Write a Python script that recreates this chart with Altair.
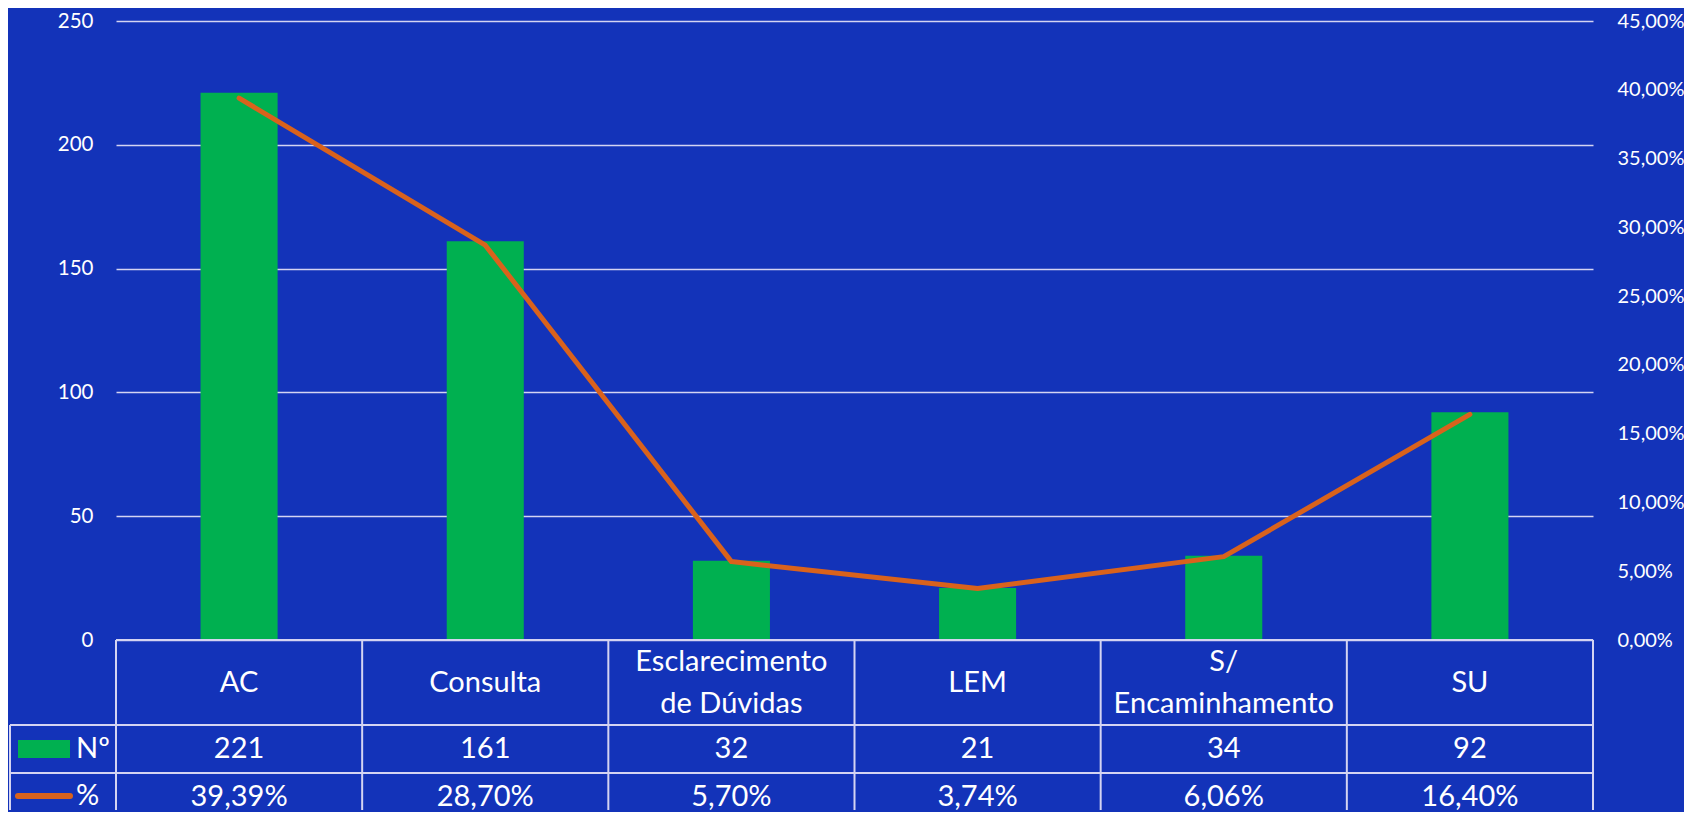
import altair as alt
import pandas as pd

# ---- data ----
categories = ["AC", "Consulta", "Esclarecimento de Dúvidas", "LEM", "S/ Encaminhamento", "SU"]
header_labels = ["AC", "Consulta", "Esclarecimento\nde Dúvidas", "LEM", "S/\nEncaminhamento", "SU"]
counts = [221, 161, 32, 21, 34, 92]
percents = [39.39, 28.70, 5.70, 3.74, 6.06, 16.40]
left_ticks = [0, 50, 100, 150, 200, 250]
right_ticks = [0, 5, 10, 15, 20, 25, 30, 35, 40, 45]
series_names = ["Nº", "%"]

BG = "#1333b9"
GREEN = "#00b050"
ORANGE = "#d9621c"
GRID = "#d4d4f2"
FONT = "Lato"

W = 1477
H_TOP = 619
H_TAB = 170
ROW1 = 85
ROW2 = 133
LINE_H = 42

df = pd.DataFrame({"cat": categories, "n": counts, "pct": percents})

xenc = alt.X("cat:N", sort=categories, axis=None,
             scale=alt.Scale(paddingInner=0.687, paddingOuter=0.3435))

bars = alt.Chart(df).mark_bar(color=GREEN).encode(
    x=xenc,
    y=alt.Y("n:Q", scale=alt.Scale(domain=[0, 250], nice=False),
            axis=alt.Axis(values=left_ticks, grid=True, gridColor=GRID, gridWidth=1.5,
                          domain=False, ticks=False, labelPadding=23, labelColor="white",
                          labelFont=FONT, labelFontSize=20.5, title=None)),
)

line = alt.Chart(df).mark_line(color=ORANGE, strokeWidth=5, strokeCap="round",
                               strokeJoin="round").encode(
    x=xenc,
    y=alt.Y("pct:Q", scale=alt.Scale(domain=[0, 45], nice=False),
            axis=alt.Axis(orient="right", values=right_ticks, grid=False, domain=False,
                          ticks=False, labelPadding=24, labelColor="white",
                          labelFont=FONT, labelFontSize=20, title=None,
                          labelExpr="replace(format(datum.value, '.2f'), '.', ',') + '%'")),
)

top = alt.layer(bars, line).resolve_scale(y="independent").properties(width=W, height=H_TOP)

# ---- data table below the plot ----
tab = pd.DataFrame({
    "col": categories,
    "head": header_labels,
    "nval": [str(v) for v in counts],
    "pval": [f"{v:.2f}".replace(".", ",") + "%" for v in percents],
})
xt = alt.X("col:N", sort=categories, axis=None, scale=alt.Scale(paddingInner=0, paddingOuter=0))

txt = dict(color="white", font=FONT, fontSize=29)

head1 = alt.Chart(tab).transform_filter(
    "indexof(datum.head, '\\n') < 0"
).mark_text(**txt).encode(x=xt, y=alt.value(ROW1 / 2), text="head:N")
head2 = alt.Chart(tab).transform_filter(
    "indexof(datum.head, '\\n') >= 0"
).mark_text(lineBreak="\n", lineHeight=LINE_H, **txt).encode(
    x=xt, y=alt.value(ROW1 / 2 - LINE_H / 2), text="head:N")
nrow = alt.Chart(tab).mark_text(**txt).encode(
    x=xt, y=alt.value((ROW1 + ROW2) / 2), text="nval:N")
prow = alt.Chart(tab).mark_text(**txt).encode(
    x=xt, y=alt.value(ROW2 + 24), text="pval:N")

vlines = alt.Chart(tab).mark_rule(color=GRID, strokeWidth=2).encode(
    x=alt.X("col:N", sort=categories, axis=None, bandPosition=0,
            scale=alt.Scale(paddingInner=0, paddingOuter=0)),
    y=alt.value(0), y2=alt.value(H_TAB))
last_edge = alt.Chart(tab.tail(1)).mark_rule(color=GRID, strokeWidth=2).encode(
    x=alt.X("col:N", sort=categories, axis=None, bandPosition=1,
            scale=alt.Scale(paddingInner=0, paddingOuter=0)),
    y=alt.value(0), y2=alt.value(H_TAB))

hl_top = alt.Chart(tab.head(1)).mark_rule(color=GRID, strokeWidth=2).encode(
    x=alt.value(0), x2=alt.value(W), y=alt.value(0))
hl_1 = alt.Chart(tab.head(1)).mark_rule(color=GRID, strokeWidth=2).encode(
    x=alt.value(-106), x2=alt.value(W), y=alt.value(ROW1))
hl_2 = alt.Chart(tab.head(1)).mark_rule(color=GRID, strokeWidth=2).encode(
    x=alt.value(-106), x2=alt.value(W), y=alt.value(ROW2))
leg_edge = alt.Chart(tab.head(1)).mark_rule(color=GRID, strokeWidth=2).encode(
    x=alt.value(-106), y=alt.value(ROW1), y2=alt.value(H_TAB))

leg = pd.DataFrame({"name": series_names})
sw_bar = alt.Chart(leg.head(1)).mark_rect(color=GREEN).encode(
    x=alt.value(-98), x2=alt.value(-46),
    y=alt.value((ROW1 + ROW2) / 2 - 9), y2=alt.value((ROW1 + ROW2) / 2 + 9))
sw_line = alt.Chart(leg.tail(1)).mark_rule(color=ORANGE, strokeWidth=6, strokeCap="round").encode(
    x=alt.value(-98), x2=alt.value(-46), y=alt.value(ROW2 + 23))
leg_n = alt.Chart(leg.head(1)).mark_text(align="left", **txt).encode(
    x=alt.value(-40), y=alt.value((ROW1 + ROW2) / 2), text="name:N")
leg_p = alt.Chart(leg.tail(1)).mark_text(align="left", **txt).encode(
    x=alt.value(-40), y=alt.value(ROW2 + 23), text="name:N")

table = alt.layer(vlines, last_edge, hl_top, hl_1, hl_2, leg_edge,
                  sw_bar, sw_line, leg_n, leg_p, head1, head2, nrow, prow
                  ).properties(width=W, height=H_TAB)

chart = alt.vconcat(top, table, spacing=0, bounds="flush").resolve_scale(
    x="independent").properties(
    padding={"left": 1, "top": 3, "right": 0, "bottom": 0}
).configure(background=BG).configure_view(stroke=None)

chart.save("out.html", embed_options={"renderer": "svg", "actions": False})
